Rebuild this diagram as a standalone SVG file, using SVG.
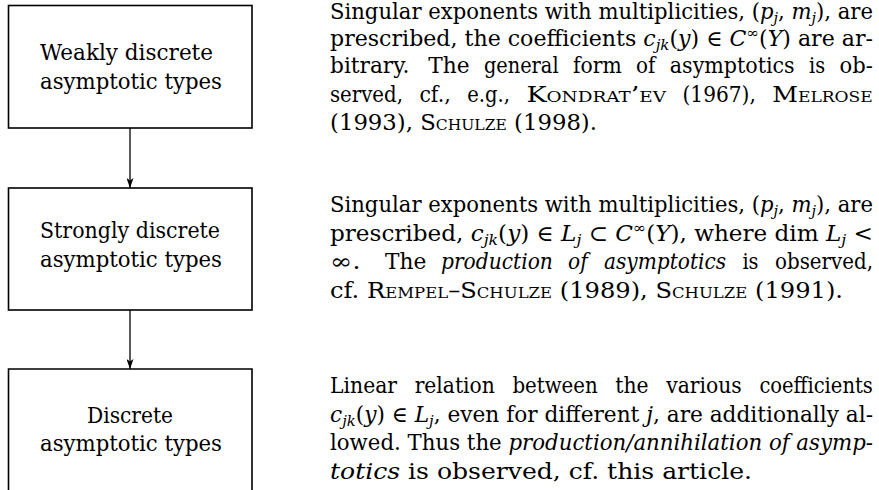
<svg xmlns="http://www.w3.org/2000/svg" width="879" height="490" viewBox="0 0 879 490" font-family="'DejaVu Serif', serif">
<style>
.box{fill:#fff;stroke:#000;stroke-width:1.6}
.conn{stroke:#000;stroke-width:1.3;fill:none}
text{font-family:"DejaVu Serif","Liberation Serif",serif;font-size:22px;fill:#000}
.i{font-style:italic}
.s{font-size:15px}
.sc{font-variant:small-caps}
</style>
<defs>
<marker id="arr" viewBox="0 0 10 7" refX="10" refY="3.5" markerWidth="10" markerHeight="7" markerUnits="userSpaceOnUse" orient="auto">
<path d="M0,0 L10,3.5 L0,7 L2.5,3.5 z" fill="#000"/>
</marker>
</defs>
<rect width="879" height="490" fill="#fff"/>

<g id="node-weak">
<rect class="box" x="8.5" y="5.5" width="243.5" height="122.5"/>
<text x="40" y="60" textLength="173" lengthAdjust="spacingAndGlyphs">Weakly discrete</text>
<text x="40" y="88.5" textLength="182" lengthAdjust="spacingAndGlyphs">asymptotic types</text>
</g>

<g id="node-strong">
<rect class="box" x="8.5" y="188" width="243.5" height="122"/>
<text x="40" y="238" textLength="180" lengthAdjust="spacingAndGlyphs">Strongly discrete</text>
<text x="40" y="266.5" textLength="182" lengthAdjust="spacingAndGlyphs">asymptotic types</text>
</g>

<g id="node-discrete">
<path class="box" d="M8.5,500 V369 H252 V500"/>
<text x="87" y="422.5" textLength="86" lengthAdjust="spacingAndGlyphs">Discrete</text>
<text x="40" y="450.5" textLength="182" lengthAdjust="spacingAndGlyphs">asymptotic types</text>
</g>

<g id="connectors">
<line class="conn" x1="130" y1="128" x2="130" y2="188" marker-end="url(#arr)"/>
<line class="conn" x1="130" y1="310" x2="130" y2="369" marker-end="url(#arr)"/>
</g>

<g id="desc-weak">
<text x="330" y="19" textLength="543" lengthAdjust="spacingAndGlyphs">Singular exponents with multiplicities, (<tspan class="i">p</tspan><tspan class="i s" dy="4">j</tspan><tspan dy="-4">, </tspan><tspan class="i">m</tspan><tspan class="i s" dy="4">j</tspan><tspan dy="-4">), are</tspan></text>
<text x="330" y="45.5" textLength="543" lengthAdjust="spacingAndGlyphs">prescribed, the coefficients <tspan class="i">c</tspan><tspan class="i s" dy="4">jk</tspan><tspan dy="-4">(</tspan><tspan class="i">y</tspan>) ∈ <tspan class="i">C</tspan><tspan class="s" dy="-8">∞</tspan><tspan dy="8">(</tspan><tspan class="i">Y</tspan>) are ar-</text>
<text y="73"><tspan x="330" textLength="79.5" lengthAdjust="spacingAndGlyphs">bitrary.</tspan><tspan x="428.2" textLength="41.3" lengthAdjust="spacingAndGlyphs">The</tspan><tspan x="483.9" textLength="74.7" lengthAdjust="spacingAndGlyphs">general</tspan><tspan x="573" textLength="48.7" lengthAdjust="spacingAndGlyphs">form</tspan><tspan x="636.1" textLength="19.3" lengthAdjust="spacingAndGlyphs">of</tspan><tspan x="669.8" textLength="124.9" lengthAdjust="spacingAndGlyphs">asymptotics</tspan><tspan x="809.1" textLength="16.1" lengthAdjust="spacingAndGlyphs">is</tspan><tspan x="839.6" textLength="33.3" lengthAdjust="spacingAndGlyphs">ob-</tspan></text>
<text y="101.5"><tspan x="330" textLength="72.9" lengthAdjust="spacingAndGlyphs">served,</tspan><tspan x="419.4" textLength="31.3" lengthAdjust="spacingAndGlyphs">cf.,</tspan><tspan x="467.2" textLength="42.7" lengthAdjust="spacingAndGlyphs">e.g.,</tspan><tspan class="sc" x="526.4" textLength="139.6" lengthAdjust="spacingAndGlyphs">Kondrat’ev</tspan><tspan x="682.5" textLength="73.3" lengthAdjust="spacingAndGlyphs">(1967),</tspan><tspan class="sc" x="772.3" textLength="100.5" lengthAdjust="spacingAndGlyphs">Melrose</tspan></text>
<text x="330" y="130" textLength="267" lengthAdjust="spacingAndGlyphs">(1993), <tspan class="sc">Schulze</tspan> (1998).</text>
</g>

<g id="desc-strong">
<text x="330" y="212" textLength="543" lengthAdjust="spacingAndGlyphs">Singular exponents with multiplicities, (<tspan class="i">p</tspan><tspan class="i s" dy="4">j</tspan><tspan dy="-4">, </tspan><tspan class="i">m</tspan><tspan class="i s" dy="4">j</tspan><tspan dy="-4">), are</tspan></text>
<text x="330" y="240.5" textLength="543" lengthAdjust="spacingAndGlyphs">prescribed, <tspan class="i">c</tspan><tspan class="i s" dy="4">jk</tspan><tspan dy="-4">(</tspan><tspan class="i">y</tspan>) ∈ <tspan class="i">L</tspan><tspan class="i s" dy="4">j</tspan><tspan dy="-4"> ⊂ </tspan><tspan class="i">C</tspan><tspan class="s" dy="-8">∞</tspan><tspan dy="8">(</tspan><tspan class="i">Y</tspan>), where dim <tspan class="i">L</tspan><tspan class="i s" dy="4">j</tspan><tspan dy="-4"> &lt;</tspan></text>
<text y="269"><tspan x="330" textLength="30.7" lengthAdjust="spacingAndGlyphs">∞.</tspan><tspan x="385" textLength="41.3" lengthAdjust="spacingAndGlyphs">The</tspan><tspan class="i" x="441" textLength="111.9" lengthAdjust="spacingAndGlyphs">production</tspan><tspan class="i" x="568" textLength="19.6" lengthAdjust="spacingAndGlyphs">of</tspan><tspan class="i" x="604" textLength="122.1" lengthAdjust="spacingAndGlyphs">asymptotics</tspan><tspan x="742.4" textLength="16.1" lengthAdjust="spacingAndGlyphs">is</tspan><tspan x="775" textLength="98" lengthAdjust="spacingAndGlyphs">observed,</tspan></text>
<text x="330" y="297.5" textLength="513" lengthAdjust="spacingAndGlyphs">cf. <tspan class="sc">Rempel–Schulze</tspan> (1989), <tspan class="sc">Schulze</tspan> (1991).</text>
</g>

<g id="desc-discrete">
<text y="393"><tspan x="330" textLength="67.1" lengthAdjust="spacingAndGlyphs">Linear</tspan><tspan x="414.7" textLength="80.1" lengthAdjust="spacingAndGlyphs">relation</tspan><tspan x="512.4" textLength="85.3" lengthAdjust="spacingAndGlyphs">between</tspan><tspan x="615.3" textLength="33.3" lengthAdjust="spacingAndGlyphs">the</tspan><tspan x="666.2" textLength="75.6" lengthAdjust="spacingAndGlyphs">various</tspan><tspan x="759.4" textLength="113.4" lengthAdjust="spacingAndGlyphs">coefficients</tspan></text>
<text x="330" y="421.5" textLength="543" lengthAdjust="spacingAndGlyphs"><tspan class="i">c</tspan><tspan class="i s" dy="4">jk</tspan><tspan dy="-4">(</tspan><tspan class="i">y</tspan>) ∈ <tspan class="i">L</tspan><tspan class="i s" dy="4">j</tspan><tspan dy="-4">, even for different </tspan><tspan class="i">j</tspan>, are additionally al-</text>
<text x="330" y="450" textLength="543" lengthAdjust="spacingAndGlyphs">lowed. Thus the <tspan class="i">production/annihilation of asymp-</tspan></text>
<text x="330" y="478.5" textLength="422" lengthAdjust="spacingAndGlyphs"><tspan class="i">totics</tspan> is observed, cf. this article.</text>
</g>
</svg>
